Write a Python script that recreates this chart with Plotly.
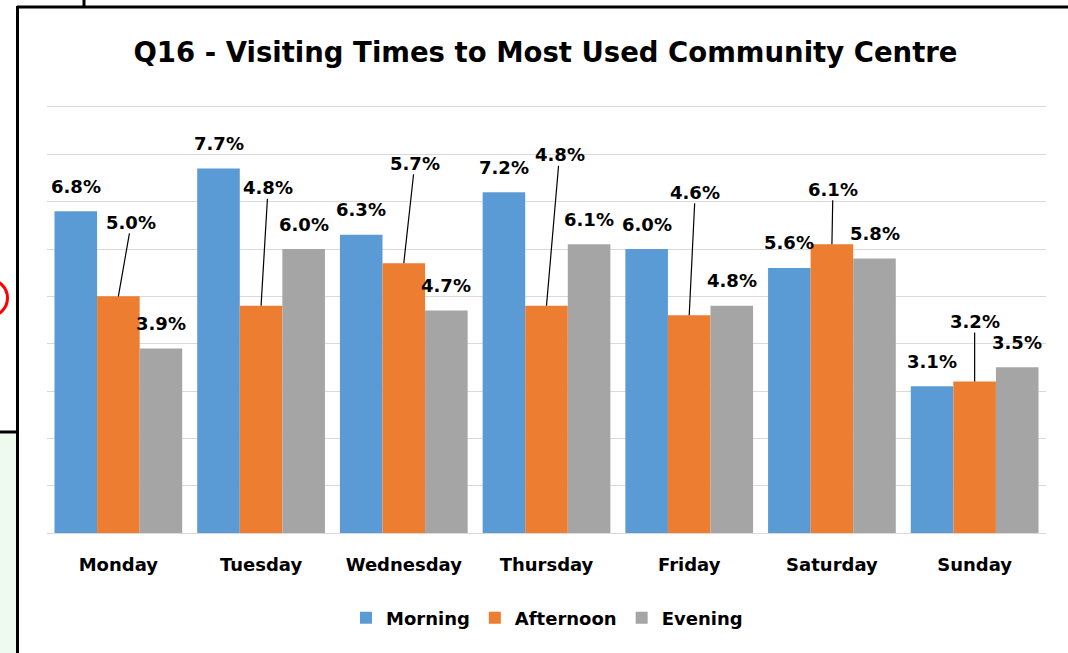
import plotly.graph_objects as go

# Survey results: share of respondents visiting their most used community centre
days = ["Monday", "Tuesday", "Wednesday", "Thursday", "Friday", "Saturday", "Sunday"]
morning = [6.8, 7.7, 6.3, 7.2, 6.0, 5.6, 3.1]
afternoon = [5.0, 4.8, 5.7, 4.8, 4.6, 6.1, 3.2]
evening = [3.9, 6.0, 4.7, 6.1, 4.8, 5.8, 3.5]

series_names = ["Morning", "Afternoon", "Evening"]
series_values = [morning, afternoon, evening]
series_colors = ["#5B9BD5", "#ED7D31", "#A5A5A5"]

# Afternoon labels are pulled up with leader lines (pixel offsets of the label)
afternoon_label_offsets = [(13, -74), (7, -118), (11, -100), (13, -151), (6, -123), (1, -55), (0, -60)]

W, H = 1068, 653
L, R, T, B = 47, 22, 107, 120
BARGAP = 0.105
FONT = "DejaVu Sans"

fig = go.Figure()
for name, vals, col in zip(series_names, series_values, series_colors):
    fig.add_bar(x=days, y=vals, name=name, marker=dict(color=col, line=dict(width=0)))

# data labels
bar_w = (1 - BARGAP) / 3
annotations = []
for k, vals in enumerate(series_values):
    for i, v in enumerate(vals):
        xpos = i + (k - 1) * bar_w
        txt = f"{v:.1f}%"
        if k == 1:
            ax, ay = afternoon_label_offsets[i]
            annotations.append(dict(
                x=xpos, y=v, xref="x", yref="y", text=txt, showarrow=True,
                arrowhead=0, arrowwidth=1.2, arrowcolor="#000000", ax=ax, ay=ay,
                axref="pixel", ayref="pixel", standoff=0, borderpad=0,
                font=dict(family=FONT, size=18, color="#000000", weight="bold")))
        else:
            annotations.append(dict(
                x=xpos, y=v, xref="x", yref="y", text=txt, showarrow=False,
                yshift=25, font=dict(family=FONT, size=18, color="#000000", weight="bold")))

fig.update_layout(annotations=annotations)


def px_x(p):
    return (p - L) / (W - L - R)


def px_y(p):
    return (H - B - p) / (H - T - B)


# surrounding slide frame
frame = [
    dict(type="rect", x0=px_x(0), x1=px_x(16), y0=px_y(434), y1=px_y(653),
         fillcolor="#eefaee", line=dict(width=0)),
    dict(type="line", x0=px_x(17), x1=px_x(1070), y0=px_y(7), y1=px_y(7),
         line=dict(color="#000000", width=3)),
    dict(type="line", x0=px_x(17.5), x1=px_x(17.5), y0=px_y(6), y1=px_y(655),
         line=dict(color="#000000", width=3)),
    dict(type="line", x0=px_x(84), x1=px_x(84), y0=px_y(-2), y1=px_y(7),
         line=dict(color="#000000", width=3)),
    dict(type="line", x0=px_x(-2), x1=px_x(17), y0=px_y(432), y1=px_y(432),
         line=dict(color="#000000", width=3)),
    dict(type="circle", x0=px_x(-30), x1=px_x(7.5), y0=px_y(279.5), y1=px_y(316.5),
         line=dict(color="#FF0000", width=3)),
]
for s in frame:
    s.update(xref="paper", yref="paper", layer="above")
fig.update_layout(shapes=frame)

fig.update_layout(
    width=W, height=H,
    margin=dict(l=L, r=R, t=T, b=B, pad=0),
    paper_bgcolor="white", plot_bgcolor="white",
    barmode="group", bargap=BARGAP, bargroupgap=0,
    title=dict(text="Q16 - Visiting Times to Most Used Community Centre",
               x=545.5 / W, xanchor="center", y=1 - 52 / H, yanchor="middle",
               font=dict(family=FONT, size=27.5, color="#000000", weight="bold")),
    xaxis=dict(type="category", showgrid=False, showline=True, mirror=True,
               linecolor="#D9D9D9", linewidth=1, ticks="", ticklabelstandoff=15,
               tickfont=dict(family=FONT, size=18, color="#000000", weight="bold")),
    yaxis=dict(range=[0, 9], dtick=1, showgrid=True, gridcolor="#D9D9D9", gridwidth=1,
               showticklabels=False, zeroline=False, showline=False),
    legend=dict(orientation="h", x=px_x(547), xanchor="center", y=px_y(618), yanchor="middle",
                font=dict(family=FONT, size=18, color="#000000", weight="bold"),
                itemwidth=30, traceorder="normal"),
    showlegend=True,
)

fig.write_html("out.html")
